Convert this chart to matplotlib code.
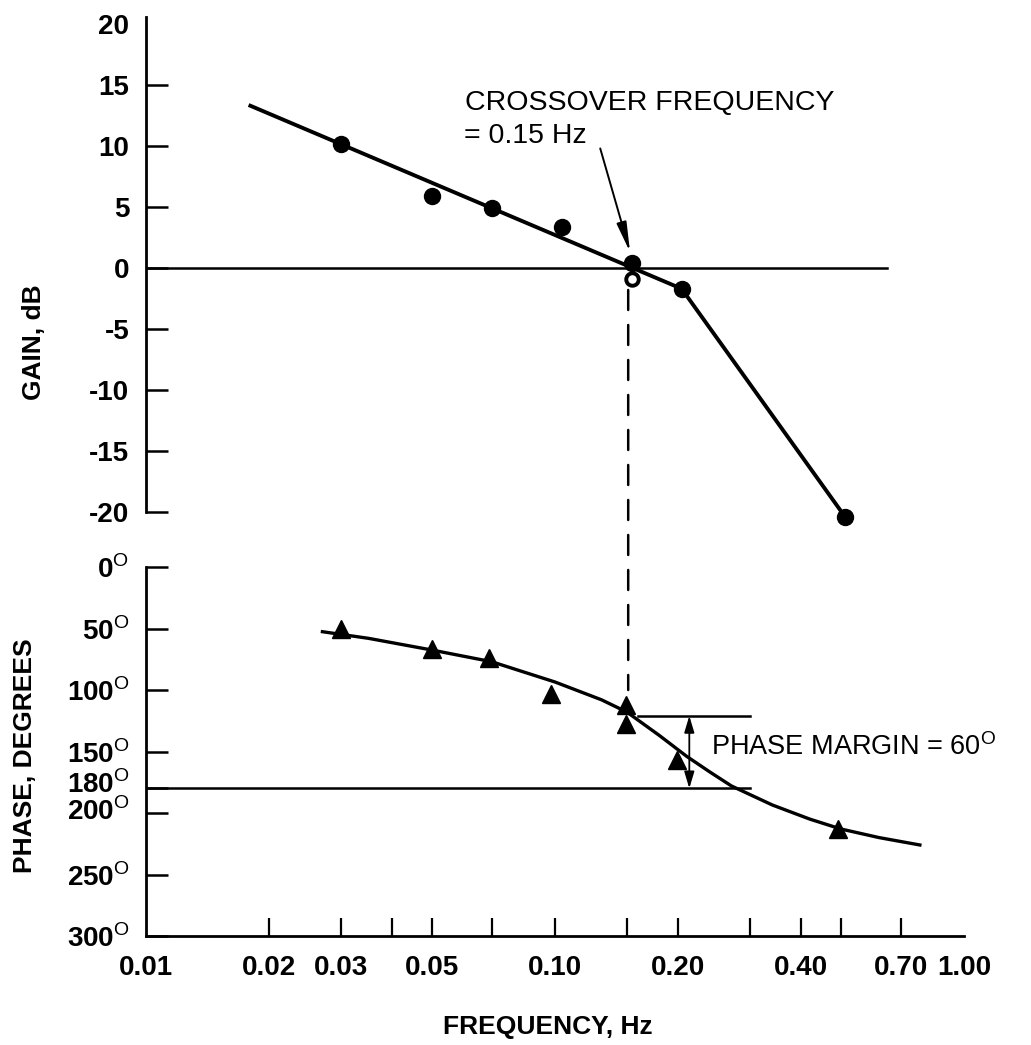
import matplotlib
matplotlib.use("Agg")
import matplotlib.pyplot as plt
import matplotlib.transforms as mtransforms
from matplotlib.patches import ConnectionPatch

plt.rcParams['font.family'] = ['Liberation Sans', 'DejaVu Sans']
plt.rcParams['mathtext.fontset'] = 'custom'
plt.rcParams['mathtext.rm'] = 'Liberation Sans'
plt.rcParams['mathtext.bf'] = 'Liberation Sans:bold'

# ---- data ----
gain_freq = [0.030, 0.050, 0.070, 0.104, 0.154, 0.204, 0.512]
gain_db = [10.2, 5.9, 4.9, 3.4, 0.4, -1.7, -20.4]
gain_open_freq = [0.154]
gain_open_db = [-0.9]
gain_fit_freq = [0.018, 0.204, 0.512]
gain_fit_db = [13.3, -1.7, -20.4]

phase_freq = [0.030, 0.050, 0.069, 0.098, 0.149, 0.149, 0.199, 0.493]
phase_deg = [50, 67, 74, 103, 112, 128, 157, 213]
phase_fit_freq = [0.027, 0.035, 0.05, 0.07, 0.10, 0.13, 0.15, 0.18, 0.21,
                  0.24, 0.27, 0.34, 0.42, 0.50, 0.62, 0.78]
phase_fit_deg = [52.6, 58, 67.5, 77, 93.5, 108, 118, 137, 154,
                 167, 178, 193.5, 205, 213, 220, 226]

crossover_freq = 0.151
margin_top = 121
margin_bottom = 180

gain_ticks = [-20, -15, -10, -5, 0, 5, 10, 15, 20]
phase_ticks = [0, 50, 100, 150, 180, 200, 250, 300]
freq_tick_marks = [0.02, 0.03, 0.04, 0.05, 0.07, 0.10, 0.15, 0.20, 0.30, 0.40, 0.50, 0.70]
freq_label_pos = [0.01, 0.02, 0.03, 0.05, 0.10, 0.20, 0.40, 0.70, 1.00]
freq_labels = ['0.01', '0.02', '0.03', '0.05', '0.10', '0.20', '0.40', '0.70', '1.00']

W, H = 1031, 1045
fig = plt.figure(figsize=(W / 100, H / 100), dpi=100)

left = 146 / W
width = 818 / W
ax1 = fig.add_axes([left, (H - 512) / H, width, (512 - 16.7) / H])
ax2 = fig.add_axes([left, (H - 936) / H, width, (936 - 567) / H])

for ax in (ax1, ax2):
    ax.set_xscale('log')
    ax.set_xlim(0.01, 1.0)
    ax.patch.set_visible(False)
    ax.spines['top'].set_visible(False)
    ax.spines['right'].set_visible(False)
    ax.spines['left'].set_linewidth(2.0)

# ---- gain panel ----
ax1.spines['bottom'].set_visible(False)
ax1.set_ylim(-20, 20.6)
ax1.set_yticks(gain_ticks)
ax1.set_yticklabels([str(t) for t in gain_ticks])
ax1.tick_params(axis='y', direction='in', length=16, width=1.8, pad=12, labelsize=20)
ax1.tick_params(axis='x', which='both', bottom=False, labelbottom=False)
ax1.yaxis.get_major_ticks()[-1].tick1line.set_visible(False)
for lbl in ax1.get_yticklabels():
    lbl.set_fontweight('bold')

ax1.plot([0.01, 0.65], [0, 0], color='black', lw=1.8)
ax1.plot(gain_fit_freq, gain_fit_db, color='black', lw=2.8, clip_on=False)
ax1.plot(gain_freq, gain_db, 'o', ms=11.5, color='black', clip_on=False)
ax1.plot(gain_open_freq, gain_open_db, 'o', ms=9, mfc='white', mec='black', mew=2.8)

ax1.text(0.0603, 12.95, 'CROSSOVER FREQUENCY', fontsize=20.5, va='baseline', ha='left')
ax1.text(0.0598, 10.25, '= 0.15 Hz', fontsize=20.5, va='baseline', ha='left')
ax1.annotate('', xy=(0.1526, 1.3), xytext=(0.129, 9.8),
             arrowprops=dict(arrowstyle='-|>,head_length=1.8,head_width=0.3',
                             mutation_scale=10, lw=1.4, color='black',
                             shrinkA=0, shrinkB=0))

# ---- phase panel ----
ax2.spines['bottom'].set_linewidth(2.0)
ax2.set_ylim(300, 0)
ax2.set_yticks(phase_ticks)
ax2.set_yticklabels([r'%d$^{\mathrm{O}}$' % t for t in phase_ticks])
ax2.tick_params(axis='y', direction='in', length=16, width=1.8, pad=12, labelsize=20)
for lbl in ax2.get_yticklabels():
    lbl.set_fontweight('bold')
# 180 and 200 labels sit a little above their ticks in the original
for t in ax2.yaxis.get_major_ticks():
    if t.get_loc() == 180:
        up = mtransforms.ScaledTranslation(0, 7 / 100, fig.dpi_scale_trans)
        t.label1.set_transform(t.label1.get_transform() + up)
    elif t.get_loc() == 200:
        up = mtransforms.ScaledTranslation(0, 4 / 100, fig.dpi_scale_trans)
        t.label1.set_transform(t.label1.get_transform() + up)

ax2.xaxis.remove_overlapping_locs = False
ax2.set_xticks(freq_tick_marks)
ax2.set_xticklabels([''] * len(freq_tick_marks))
ax2.set_xticks(freq_label_pos, minor=True)
ax2.set_xticklabels(freq_labels, minor=True)
ax2.tick_params(axis='x', which='major', direction='in', length=13, width=1.6)
ax2.tick_params(axis='x', which='minor', direction='in', length=0, pad=14, labelsize=20)
for lbl in ax2.get_xticklabels(minor=True):
    lbl.set_fontweight('bold')

ax2.plot([0.01, 0.30], [margin_bottom, margin_bottom], color='black', lw=1.8)
ax2.plot([0.16, 0.30], [margin_top, margin_top], color='black', lw=1.8)
ax2.plot(phase_fit_freq, phase_fit_deg, color='black', lw=2.4)
ax2.plot(phase_freq, phase_deg, '^', ms=13, color='black')
ax2.annotate('', xy=(0.213, margin_bottom), xytext=(0.213, margin_top),
             arrowprops=dict(arrowstyle='<|-|>,head_length=1.0,head_width=0.3',
                             mutation_scale=10, lw=1.3, color='black',
                             shrinkA=0, shrinkB=0))
ax2.text(0.2406, 146.3, r'PHASE MARGIN = 60$^{\mathrm{O}}$', fontsize=19.5,
         va='center', ha='left', clip_on=False)

# dashed crossover line through both panels
con = ConnectionPatch(xyA=(crossover_freq, -1.8), coordsA=ax1.transData,
                      xyB=(crossover_freq, 100), coordsB=ax2.transData,
                      color='black', lw=1.8, linestyle=(0, (8, 6)))
fig.add_artist(con)

# axis titles
fig.text(34 / W, 1 - 342 / H, 'GAIN, dB', rotation=90, ha='center', va='center',
         fontsize=19, fontweight='bold')
fig.text(25 / W, 1 - 756 / H, 'PHASE, DEGREES', rotation=90, ha='center', va='center',
         fontsize=19, fontweight='bold')
fig.text(548 / W, 1 - 1027 / H, 'FREQUENCY, Hz', ha='center', va='center',
         fontsize=19, fontweight='bold')

fig.savefig('out.png', dpi=100, facecolor='white')
